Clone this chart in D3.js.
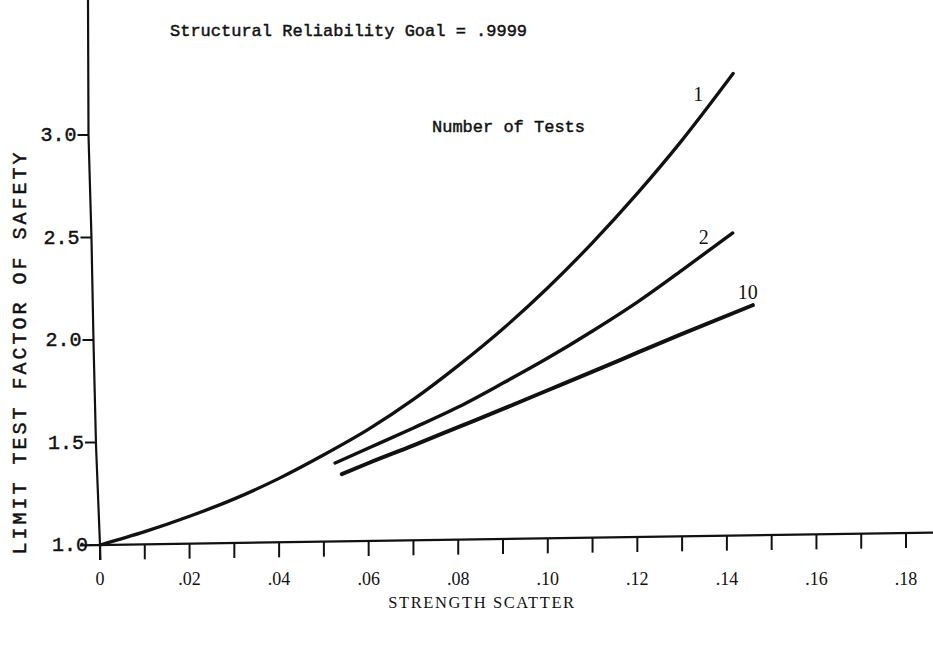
<!DOCTYPE html>
<html><head><meta charset="utf-8">
<script src="https://cdn.jsdelivr.net/npm/d3@7"></script>
<style>html,body{margin:0;padding:0;background:#fff;} svg{display:block}</style>
</head><body><svg id="chart" width="933" height="650"></svg>
<script>
// ---- data ----
const xTickValues = [0,0.01,0.02,0.03,0.04,0.05,0.06,0.07,0.08,0.09,0.10,0.11,0.12,0.13,0.14,0.15,0.16,0.17,0.18];
const xTickLabels = ["0","",".02","",".04","",".06","",".08","",".10","",".12","",".14","",".16","",".18"];
const yTickValues = [1.0,1.5,2.0,2.5,3.0];
const yTickLabels = ["1.0","1.5","2.0","2.5","3.0"];
const seriesNames = ["1","2","10"];
const curve1X = [0,0.01,0.02,0.03,0.04,0.05,0.06,0.07,0.08,0.09,0.10,0.11,0.12,0.13,0.1414];
const curve1Y = [1.00,1.065,1.14,1.225,1.325,1.44,1.565,1.71,1.875,2.055,2.255,2.475,2.715,2.975,3.30];
const curve2X = [0.0525,0.06,0.07,0.08,0.09,0.10,0.11,0.12,0.13,0.1413];
const curve2Y = [1.40,1.473,1.571,1.673,1.790,1.912,2.044,2.185,2.341,2.522];
const curve10X = [0.054,0.06,0.07,0.08,0.09,0.10,0.11,0.12,0.13,0.1458];
const curve10Y = [1.346,1.40,1.486,1.575,1.664,1.755,1.846,1.938,2.03,2.17];
const titleText = "Structural Reliability Goal = .9999";
const legendTitle = "Number of Tests";
const xTitle = "STRENGTH SCATTER";
const yTitle = "LIMIT TEST FACTOR OF SAFETY";

// ---- drawing ----
const svg = d3.select("#chart");
const x = d3.scaleLinear().domain([0,0.18]).range([100,906]);
const y = d3.scaleLinear().domain([1,3]).range([545,135]);
// slight distortion of the scanned axes
const xBase = px => 545 - 0.0149*(px-100);
const yBase = d3.scaleLinear().domain([560,545,445,342,239,135,0]).range([100.4,100,96,93.5,91.5,88.5,88]);
const ink = "#111";
const heavy = sel => sel.attr("stroke", ink).attr("stroke-width", 0.45);

// x axis
const gx = svg.append("g").call(d3.axisBottom(x).tickValues(xTickValues)
  .tickFormat((d,i)=>xTickLabels[i]).tickSize(15).tickSizeOuter(0));
gx.select(".domain").remove();
gx.selectAll(".tick").attr("transform", d => `translate(${x(d)},${xBase(x(d))})`);
gx.selectAll(".tick line").attr("stroke", ink).attr("stroke-width", 2);
gx.selectAll(".tick text").attr("y", d => 585 - xBase(x(d))).attr("dy", 0)
  .attr("font-family", "Liberation Serif").attr("font-size", 18).attr("fill", ink);
gx.append("line").attr("x1", 80).attr("y1", xBase(80)).attr("x2", 933).attr("y2", xBase(933))
  .attr("stroke", ink).attr("stroke-width", 2.2);

// y axis
const gy = svg.append("g").call(d3.axisLeft(y).tickValues(yTickValues)
  .tickFormat((d,i)=>yTickLabels[i]).tickSize(11).tickPadding(1).tickSizeOuter(0));
gy.select(".domain").remove();
gy.selectAll(".tick").attr("transform", d => `translate(${yBase(y(d))},${y(d)})`);
gy.selectAll(".tick line").attr("stroke", ink).attr("stroke-width", 2);
gy.selectAll(".tick text").attr("font-family", "Liberation Mono").attr("font-size", 20).attr("fill", ink).call(heavy);
const axisPts = d3.range(0, 561, 5).map(py => [yBase(py), py]);
gy.append("path").datum(axisPts).attr("d", d3.line()).attr("fill","none")
  .attr("stroke", ink).attr("stroke-width", 2.2);

// curves
const line = d3.line().x(d=>x(d[0])).y(d=>y(d[1])).curve(d3.curveMonotoneX);
const series = [
  {name: seriesNames[0], xs: curve1X, ys: curve1Y, w: 3.3, dx: -35, dy: 27},
  {name: seriesNames[1], xs: curve2X, ys: curve2Y, w: 3.4, dx: -29, dy: 11},
  {name: seriesNames[2], xs: curve10X, ys: curve10Y, w: 4, dx: -5, dy: -6}
];
series.forEach(s => {
  const pts = s.xs.map((v,i)=>[v, s.ys[i]]);
  svg.append("path").datum(pts).attr("d", line).attr("fill","none")
    .attr("stroke", ink).attr("stroke-width", s.w).attr("stroke-linecap","round");
  const last = pts[pts.length-1];
  svg.append("text").attr("x", x(last[0]) + s.dx).attr("y", y(last[1]) + s.dy)
    .attr("text-anchor","middle").attr("font-family","Liberation Serif").attr("font-size",20)
    .attr("fill", ink).text(s.name);
});

// texts
svg.append("text").attr("x",170).attr("y",36).attr("font-family","Liberation Mono")
  .attr("font-size",17).attr("fill",ink).call(heavy).text(titleText);
svg.append("text").attr("x",432).attr("y",132).attr("font-family","Liberation Mono")
  .attr("font-size",17).attr("fill",ink).call(heavy).text(legendTitle);
svg.append("text").attr("x",482).attr("y",608).attr("text-anchor","middle")
  .attr("font-family","Liberation Serif").attr("font-size",16.5).attr("letter-spacing",1.6)
  .attr("fill",ink).text(xTitle);
svg.append("text").attr("transform","translate(26,352) rotate(-90)").attr("text-anchor","middle")
  .attr("font-family","Liberation Mono").attr("font-size",20).attr("letter-spacing",3)
  .attr("fill",ink).call(heavy).text(yTitle);
</script></body></html>
